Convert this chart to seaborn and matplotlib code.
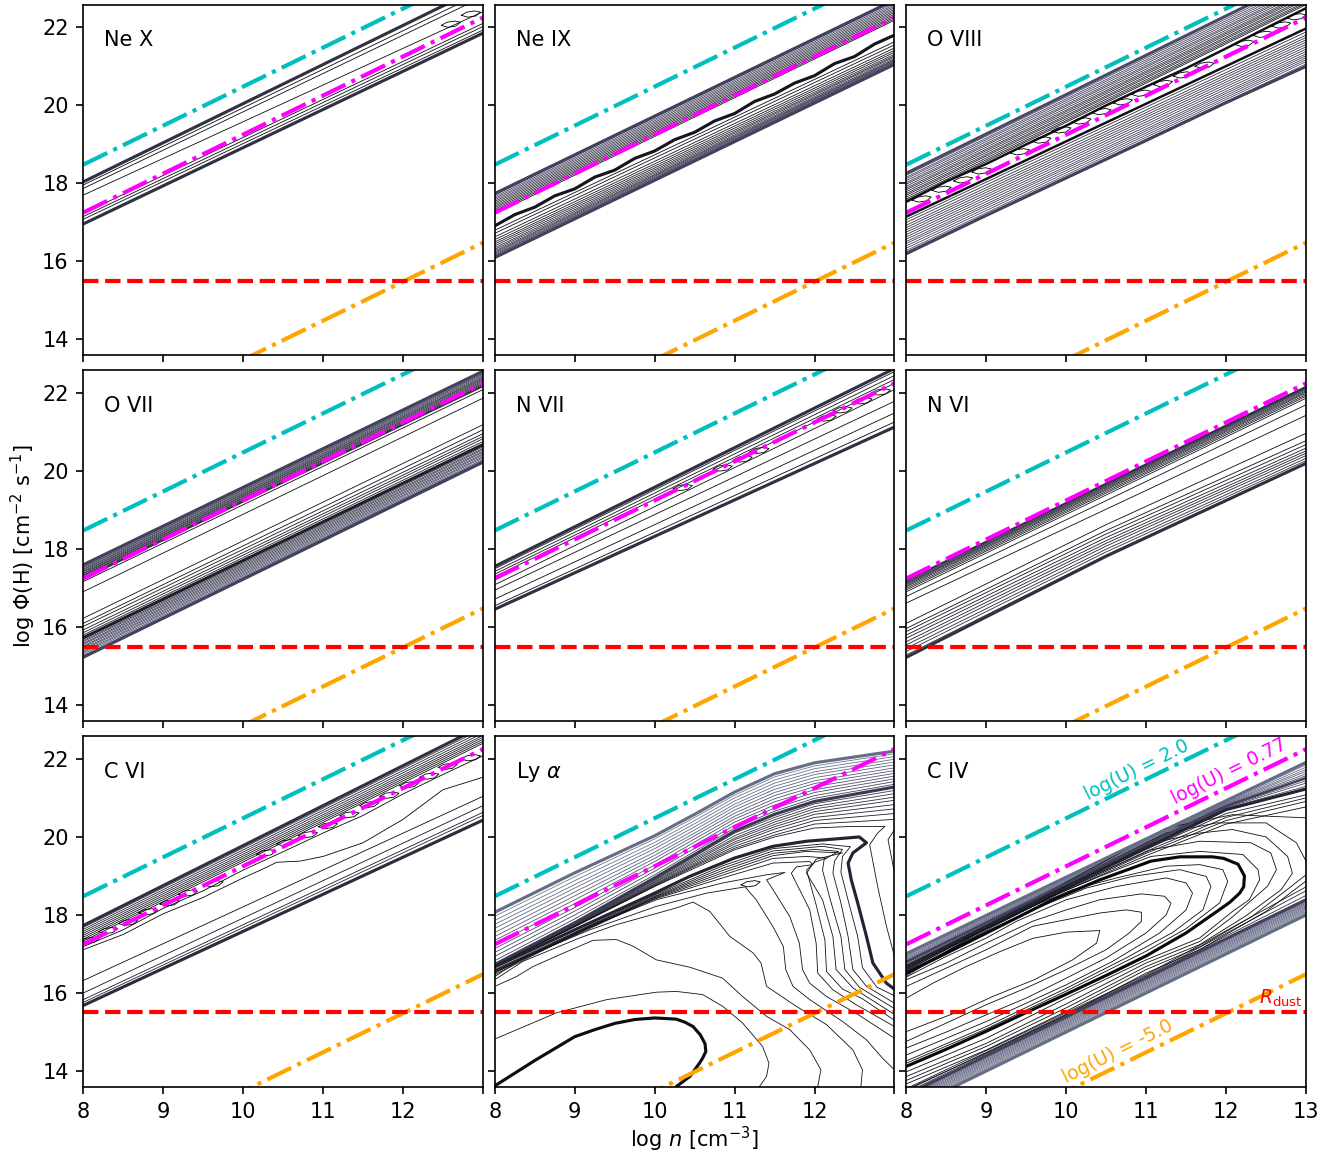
import numpy as np
import pandas as pd
import seaborn as sns
import matplotlib.pyplot as plt

#%% shared reference lines
n_ends = [8, 13]
n_knots = [8, 9, 10, 11, 12, 13]
n_quarter = [8, 8.25, 8.5, 8.75, 9, 9.25, 9.5, 9.75, 10, 10.25, 10.5, 10.75, 11,
             11.25, 11.5, 11.75, 12, 12.25, 12.5, 12.75, 13]
n_half = [8, 8.5, 9, 9.5, 10, 10.5, 11, 11.5, 12, 12.5, 13]
n_bow = [8, 10.5, 13]
u_high = [18.48, 23.48]
u_mid = [17.25, 22.25]
u_low = [11.48, 16.48]
r_dust = [15.5, 15.5]
panel_names = ['Ne X', 'Ne IX', 'O VIII', 'O VII', 'N VII', 'N VI', 'C VI', r'Ly $\alpha$', 'C IV']
x_ticks = [8, 9, 10, 11, 12, 13]
y_ticks = [14, 16, 18, 20, 22]

# small closed contours, drawn from one lens outline
loop_dn = [-.12, -.05, .05, .12, .06, -.04, -.12]
loop_dphi = [-.03, .05, .08, .05, -.05, -.08, -.03]

#%% Ne X
ne_x_thin_8 = [17.96, 17.87, 17.70, 17.23, 17.15, 17.08]
ne_x_thin_13 = [22.90, 22.78, 22.40, 22.10, 22.02, 21.93]
ne_x_thick_8 = [18.04, 16.96]
ne_x_thick_13 = [23.05, 21.85]
ne_x_loop_n = [12.85, 12.6]
ne_x_loop_phi = [22.34, 22.08]

#%% Ne IX
ne_ix_band_8 = [17.70, 17.66, 17.62, 17.58, 17.54, 17.50, 17.46, 17.42, 17.38, 17.34, 17.30, 17.26, 17.22]
ne_ix_band_13 = [22.66, 22.62, 22.58, 22.54, 22.50, 22.46, 22.42, 22.38, 22.34, 22.30, 22.26, 22.22, 22.18]
ne_ix_low_8 = [16.80, 16.72, 16.63, 16.56, 16.50, 16.45, 16.40, 16.35, 16.31, 16.27, 16.24, 16.21, 16.18, 16.16, 16.13]
ne_ix_low_13 = [21.63, 21.55, 21.47, 21.41, 21.36, 21.31, 21.27, 21.24, 21.20, 21.17, 21.15, 21.13, 21.11, 21.09, 21.07]
ne_ix_top = [17.74, 22.70]
ne_ix_bottom = [16.10, 21.05]
ne_ix_wavy = [16.91, 17.20, 17.39, 17.68, 17.86, 18.16, 18.34, 18.64, 18.83, 19.12, 19.31,
              19.60, 19.79, 20.10, 20.29, 20.57, 20.76, 21.07, 21.25, 21.57, 21.80]

#%% O VIII
o8_band_8 = [18.21, 18.16, 18.12, 18.07, 18.02, 17.98, 17.93, 17.88, 17.84, 17.79, 17.74, 17.70, 17.65, 17.60, 17.56]
o8_band_13 = [23.22, 23.17, 23.12, 23.07, 23.02, 22.98, 22.93, 22.88, 22.84, 22.80, 22.75, 22.71, 22.66, 22.62, 22.58]
o8_low_8 = [17.07, 17.00, 16.93, 16.87, 16.81, 16.75, 16.69, 16.63, 16.57, 16.51, 16.46, 16.40, 16.34, 16.28, 16.24]
o8_low_13 = [21.88, 21.80, 21.74, 21.68, 21.62, 21.56, 21.50, 21.44, 21.38, 21.32, 21.27, 21.22, 21.17, 21.12, 21.06]
o8_top = [18.26, 23.30]
o8_inner_low = [17.15, 21.97]
o8_inner_high = [17.53, 18.05, 18.50, 19.00, 19.48, 20.00, 20.48, 20.95, 21.46, 21.98, 22.49]
o8_bottom = [16.20, 17.18, 18.14, 19.10, 20.07, 21.00]
o8_loop_n = [8.19, 8.44, 8.71, 8.94, 9.42, 9.69, 9.94, 10.19, 10.44, 10.71, 10.94, 11.21, 11.46, 11.73, 12.23, 12.46, 12.69, 12.88]
o8_loop_phi = [17.60, 17.85, 18.09, 18.32, 18.81, 19.11, 19.37, 19.60, 19.84, 20.09, 20.31, 20.56, 20.78, 21.03, 21.59, 21.82, 22.06, 22.27]

#%% O VII
o7_band_8 = [17.57, 17.54, 17.52, 17.49, 17.47, 17.44, 17.42, 17.39, 17.37, 17.34, 17.32, 17.29]
o7_band_13 = [22.53, 22.50, 22.48, 22.45, 22.42, 22.39, 22.37, 22.34, 22.31, 22.28, 22.25, 22.22]
o7_thin_8 = [17.17, 16.91, 16.23, 16.10, 16.02, 15.93, 15.86, 15.80]
o7_thin_13 = [22.09, 21.87, 21.19, 21.06, 20.96, 20.89, 20.83, 20.76]
o7_low_8 = [15.70, 15.66, 15.63, 15.59, 15.56, 15.52, 15.49, 15.45, 15.42, 15.38, 15.35, 15.31, 15.27]
o7_low_13 = [20.65, 20.62, 20.58, 20.55, 20.51, 20.48, 20.44, 20.41, 20.37, 20.34, 20.30, 20.27, 20.25]
o7_top = [17.60, 22.56]
o7_peak = [17.25, 22.18]
o7_mid = [15.73, 20.68]
o7_bottom = [15.23, 20.23]

#%% N VII
n7_thin_8 = [17.50, 17.43, 17.36, 17.30, 17.09, 16.95, 16.72, 16.55]
n7_thin_13 = [22.55, 22.45, 22.35, 22.25, 22.09, 21.79, 21.49, 21.26]
n7_thick_8 = [17.56, 16.46]
n7_thick_13 = [22.63, 21.13]
n7_loop_n = [10.35, 10.85, 11.10, 11.31, 12.15, 12.35, 12.60, 12.83]
n7_loop_phi = [19.58, 20.08, 20.31, 20.53, 21.36, 21.57, 21.80, 22.03]

#%% N VI
n6_band_8 = [17.16, 17.14, 17.12, 17.10, 17.07, 17.04, 17.00, 16.96, 16.91, 16.79, 16.62]
n6_band_13 = [22.13, 22.11, 22.09, 22.06, 22.03, 22.00, 21.96, 21.92, 21.87, 21.70, 21.43]
n6_low_8 = [16.10, 15.97, 15.89, 15.80, 15.72, 15.63, 15.55, 15.46, 15.38, 15.29]
n6_low_mid = [18.63, 18.48, 18.39, 18.30, 18.22, 18.15, 18.08, 18.00, 17.93, 17.85]
n6_low_13 = [20.97, 20.78, 20.68, 20.59, 20.52, 20.46, 20.40, 20.33, 20.27, 20.21]
n6_peak = [17.20, 22.16]
n6_bottom = [15.23, 17.82, 20.20]

#%% C VI
c6_band_8 = [17.68, 17.63, 17.58, 17.53, 17.48, 17.43, 17.38, 17.33]
c6_band_13 = [22.78, 22.72, 22.66, 22.60, 22.55, 22.50, 22.45, 22.40]
c6_low_8 = [16.32, 16.00, 15.83, 15.76]
c6_low_13 = [21.04, 20.80, 20.63, 20.55]
c6_top = [17.73, 22.85]
c6_bottom = [15.68, 20.43]
c6_wavy = [17.19, 17.62, 18.17, 18.62, 19.15, 19.62, 20.10, 20.55, 21.10, 21.60, 22.08]
c6_bump_n = [8, 8.5, 9, 9.5, 10, 10.25, 10.42, 10.71, 11, 11.5, 12, 12.5, 13]
c6_bump_phi = [17.11, 17.50, 18.03, 18.45, 18.95, 19.18, 19.35, 19.38, 19.50, 19.85, 20.45, 21.21, 21.53]
c6_loop_n = [8.08, 8.31, 8.56, 8.81, 9.08, 9.31, 9.63, 10.29, 10.54, 10.81, 11.06, 11.33, 11.58, 11.83, 12.08, 12.33, 12.56, 12.85]
c6_loop_phi = [17.35, 17.60, 17.81, 18.08, 18.31, 18.56, 18.80, 19.59, 19.85, 20.06, 20.29, 20.57, 20.83, 21.07, 21.34, 21.56, 21.81, 22.03]

#%% Ly alpha
ly_knots = [8, 9, 10, 10.5, 11, 11.5, 12, 13]
ly_top = [18.07, 19.08, 20.03, 20.58, 21.15, 21.62, 21.90, 22.20]
ly_second = [16.73, 17.80, 18.95, 19.55, 20.15, 20.58, 20.91, 21.28]
ly_up_8 = [17.97, 17.86, 17.76, 17.66, 17.55, 17.45, 17.35, 17.25, 17.14, 17.04, 16.94, 16.83]
ly_up_9 = [18.98, 18.88, 18.78, 18.69, 18.59, 18.49, 18.39, 18.29, 18.19, 18.10, 18.00, 17.90]
ly_up_10 = [19.95, 19.86, 19.78, 19.70, 19.61, 19.53, 19.45, 19.37, 19.28, 19.20, 19.12, 19.03]
ly_up_105 = [20.50, 20.42, 20.34, 20.26, 20.18, 20.10, 20.03, 19.95, 19.87, 19.79, 19.71, 19.63]
ly_up_11 = [21.07, 21.00, 20.92, 20.84, 20.77, 20.69, 20.61, 20.53, 20.46, 20.38, 20.30, 20.23]
ly_up_115 = [21.54, 21.46, 21.38, 21.30, 21.22, 21.14, 21.06, 20.98, 20.90, 20.82, 20.74, 20.66]
ly_up_12 = [21.82, 21.75, 21.67, 21.60, 21.52, 21.44, 21.37, 21.29, 21.21, 21.14, 21.06, 20.99]
ly_up_13 = [22.13, 22.06, 21.99, 21.92, 21.85, 21.77, 21.70, 21.63, 21.56, 21.49, 21.42, 21.35]
ly_dn_8 = [16.72, 16.72, 16.72, 16.71, 16.71, 16.71, 16.70, 16.70]
ly_dn_9 = [17.76, 17.75, 17.74, 17.73, 17.72, 17.71, 17.71, 17.70]
ly_dn_10 = [18.90, 18.88, 18.85, 18.83, 18.80, 18.78, 18.76, 18.74]
ly_dn_105 = [19.50, 19.46, 19.42, 19.38, 19.34, 19.30, 19.27, 19.24]
ly_dn_11 = [20.10, 20.03, 19.97, 19.93, 19.87, 19.82, 19.76, 19.71]
ly_dn_115 = [20.50, 20.44, 20.38, 20.32, 20.26, 20.20, 20.12, 20.05]
ly_dn_12 = [20.85, 20.78, 20.72, 20.65, 20.58, 20.50, 20.42, 20.33]
ly_dn_13 = [21.19, 21.11, 21.02, 20.94, 20.83, 20.72, 20.60, 20.45]

ly_peak_n = [8, 8.5, 9, 9.25, 9.5, 9.75, 10, 10.27, 10.38, 10.48, 10.57, 10.63, 10.64, 10.6, 10.56, 10.44, 10.27]
ly_peak_phi = [13.62, 14.27, 14.88, 15.06, 15.22, 15.32, 15.36, 15.33, 15.25, 15.14, 14.93, 14.70, 14.50, 14.33, 14.20, 13.86, 13.60]
ly_third_n = [8, 9, 10, 10.44, 11, 11.48, 11.9, 12.27, 12.56, 12.65, 12.48, 12.42, 12.46, 12.54, 12.65, 12.73, 12.9, 13]
ly_third_phi = [16.67, 17.62, 18.56, 18.99, 19.46, 19.76, 19.89, 19.95, 20.00, 19.85, 19.59, 19.33, 18.90, 18.31, 17.45, 16.77, 16.25, 16.10]
ly_a_n = [8, 8.77, 9.4, 10.02, 10.27, 10.6, 10.85, 11.1, 11.35, 11.43, 11.4, 11.31]
ly_a_phi = [14.82, 15.49, 15.83, 16.02, 16.04, 15.96, 15.66, 15.23, 14.63, 14.20, 13.86, 13.60]
ly_b_n = [8, 8.27, 8.48, 8.9, 9.23, 9.52, 9.73, 10.02, 10.44, 10.85, 11.1, 11.4, 11.69, 11.94, 12.08, 12.04]
ly_b_phi = [16.17, 16.42, 16.68, 17.06, 17.35, 17.37, 17.20, 16.85, 16.66, 16.38, 15.91, 15.40, 15.06, 14.54, 14.03, 13.60]
ly_c_n = [8, 8.35, 9.06, 9.52, 10.27, 10.48, 10.69, 10.94, 11.23, 11.33, 11.4, 11.77, 12.15, 12.48, 12.6, 12.58]
ly_c_phi = [16.34, 16.81, 17.41, 17.75, 18.18, 18.33, 18.09, 17.45, 17.03, 16.77, 16.17, 15.66, 15.19, 14.54, 14.03, 13.60]
ly_d_n = [8, 8.35, 9.19, 10.02, 10.65, 11.13, 11.27, 11.48, 11.61, 11.64, 11.73, 11.94, 12.35, 12.65, 12.85, 13]
ly_d_phi = [16.42, 16.90, 17.62, 18.22, 18.56, 18.72, 18.39, 17.70, 17.19, 16.60, 16.17, 15.83, 15.27, 14.80, 14.33, 14.03]
ly_e_n = [8, 9.19, 10.02, 10.85, 11.4, 11.63, 11.4, 11.48, 11.69, 11.81, 11.85, 11.94, 12.15, 12.52, 13]
ly_e_phi = [16.47, 17.70, 18.39, 18.82, 19.03, 19.09, 18.90, 18.65, 17.96, 17.28, 16.60, 16.25, 15.91, 15.48, 14.84]
ly_f_n = [8, 9.19, 10.02, 10.85, 11.48, 11.94, 11.98, 11.77, 11.71, 11.94, 12.02, 12.04, 12.23, 12.52, 13]
ly_f_phi = [16.51, 17.73, 18.42, 18.95, 19.33, 19.37, 19.29, 19.23, 19.07, 18.13, 17.28, 16.51, 16.08, 15.70, 15.14]
ly_i_n = [8, 10.02, 10.85, 11.48, 11.9, 12.15, 12.0, 11.9, 12.02, 12.13, 12.15, 12.35, 12.6, 13]
ly_i_phi = [16.53, 18.44, 19.02, 19.45, 19.50, 19.46, 19.35, 19.15, 18.26, 17.36, 16.55, 16.10, 15.85, 15.30]
ly_g_n = [8, 10.02, 10.85, 11.48, 11.9, 12.35, 12.02, 11.9, 12.1, 12.23, 12.27, 12.48, 13]
ly_g_phi = [16.55, 18.46, 19.08, 19.52, 19.63, 19.59, 19.43, 19.07, 18.39, 17.45, 16.60, 16.13, 15.45]
ly_g2_n = [8, 10.02, 10.85, 11.48, 12.0, 12.3, 12.12, 12.1, 12.2, 12.33, 12.38, 12.56, 13]
ly_g2_phi = [16.565, 18.48, 19.14, 19.58, 19.68, 19.63, 19.42, 19.15, 18.37, 17.45, 16.60, 16.15, 15.60]
ly_h_n = [8, 10.02, 10.85, 11.48, 12.1, 12.35, 12.25, 12.23, 12.33, 12.42, 12.48, 12.65, 13]
ly_h_phi = [16.58, 18.50, 19.20, 19.64, 19.76, 19.68, 19.38, 19.08, 18.31, 17.45, 16.60, 16.17, 15.74]
ly_m_n = [8, 10.02, 10.85, 11.48, 12.1, 12.45, 12.35, 12.33, 12.43, 12.54, 12.6, 12.78, 13]
ly_m_phi = [16.60, 18.53, 19.26, 19.70, 19.82, 19.75, 19.50, 19.10, 18.30, 17.45, 16.65, 16.15, 15.93]
ly_j_n = [8, 9, 10, 10.5, 11, 11.5, 12, 12.48, 12.88, 12.79, 12.69, 12.79, 12.9, 13]
ly_j_phi = [16.70, 17.70, 18.73, 19.20, 19.67, 20.00, 20.23, 20.27, 20.27, 20.10, 19.80, 18.73, 17.71, 16.94]
ly_k_n = [13, 12.92, 13]
ly_k_phi = [20.18, 19.93, 19.08]
ly_loop_n = [11.2]
ly_loop_phi = [18.8]

#%% C IV
civ_knots = [8, 11, 12, 13]
civ_up_8 = [16.98, 16.95, 16.92, 16.89, 16.86, 16.83, 16.77, 16.74, 16.71]
civ_up_11 = [19.93, 19.91, 19.89, 19.87, 19.85, 19.83, 19.79, 19.77, 19.75]
civ_up_12 = [20.91, 20.89, 20.87, 20.85, 20.83, 20.81, 20.77, 20.75, 20.73]
civ_up_13 = [21.85, 21.79, 21.73, 21.68, 21.62, 21.57, 21.44, 21.38, 21.30]
civ_outer = [17.01, 19.95, 20.93, 21.91]
civ_outer_mid = [16.80, 19.81, 20.79, 21.51]
civ_dark = [16.68, 17.71, 18.73, 19.72, 20.70, 21.23]
civ_sub_n = [8, 10, 11, 12, 13]
civ_sub_8 = [16.67, 16.66, 16.65, 16.64]
civ_sub_10 = [18.70, 18.68, 18.66, 18.64]
civ_sub_11 = [19.68, 19.63, 19.58, 19.52]
civ_sub_12 = [20.60, 20.50, 20.42, 20.33]
civ_sub_13 = [21.08, 21.00, 20.91, 20.77]
civ_oval1_n = [8, 8.33, 8.75, 9.17, 9.58, 10, 10.42, 10.38, 10.08, 9.6, 9.08, 8.75, 8.33, 8]
civ_oval1_phi = [15.87, 16.25, 16.68, 17.06, 17.40, 17.56, 17.60, 17.28, 16.85, 16.34, 15.91, 15.60, 15.27, 15.01]
civ_oval2_n = [8, 8.5, 9, 9.58, 10, 10.42, 10.75, 10.94, 10.94, 10.79, 10.5, 10, 9.5, 9, 8.5, 8]
civ_oval2_phi = [16.17, 16.64, 17.11, 17.71, 17.88, 18.05, 18.13, 18.07, 17.84, 17.54, 17.11, 16.60, 16.13, 15.70, 15.23, 14.76]
civ_oval3_n = [8, 8.5, 9, 9.58, 10, 10.42, 10.94, 11.23, 11.31, 11.25, 11, 10.5, 10, 9.5, 9, 8.5, 8]
civ_oval3_phi = [16.34, 16.77, 17.28, 17.84, 18.13, 18.39, 18.54, 18.48, 18.30, 18.00, 17.54, 16.90, 16.38, 15.87, 15.44, 15.00, 14.59]
civ_oval4_n = [8, 8.5, 9, 9.38, 10, 10.63, 11.25, 11.5, 11.58, 11.5, 11.17, 10.58, 10, 9.5, 9, 8.5, 8]
civ_oval4_phi = [16.41, 16.94, 17.41, 17.84, 18.39, 18.73, 18.95, 18.82, 18.56, 18.13, 17.54, 16.81, 16.21, 15.74, 15.27, 14.84, 14.41]
civ_oval5_n = [8, 8.5, 9, 9.58, 10.25, 10.83, 11.42, 11.75, 11.81, 11.71, 11.33, 10.75, 10, 9, 8]
civ_oval5_phi = [16.44, 17.06, 17.58, 18.13, 18.69, 18.99, 19.16, 18.99, 18.73, 18.13, 17.55, 16.90, 16.12, 15.14, 14.26]
civ_oval6_n = [8, 9, 9.58, 10.08, 10.63, 11.25, 11.67, 11.96, 12.02, 11.92, 11.5, 11, 10, 9, 8]
civ_oval6_phi = [16.47, 17.66, 18.22, 18.65, 18.95, 19.25, 19.29, 19.16, 18.86, 18.31, 17.65, 17.07, 16.05, 15.08, 14.20]
civ_peak_n = [8, 8.5, 9, 9.5, 10, 10.5, 11, 11.5, 11.92, 12.05, 12.17, 12.22, 12.23, 12.15, 11.97, 11.83, 11.42, 11.06, 10.42, 9.83, 9.17, 8.5, 8]
civ_peak_phi = [14.12, 14.56, 15.02, 15.50, 15.97, 16.45, 16.95, 17.54, 18.14, 18.33, 18.56, 18.72, 19.00, 19.30, 19.45, 19.49, 19.49, 19.38, 18.90, 18.39, 17.71, 17.02, 16.51]
civ_oval7_n = [8, 9.17, 9.83, 10.42, 11.06, 11.67, 12.21, 12.4, 12.42, 12.29, 12.08, 11.67, 11, 10, 9, 8]
civ_oval7_phi = [16.53, 17.79, 18.48, 18.99, 19.50, 19.63, 19.55, 19.16, 18.90, 18.39, 18.09, 17.41, 16.85, 15.87, 14.84, 13.98]
civ_oval8_n = [8, 9.17, 10.42, 11.06, 11.67, 12.31, 12.56, 12.63, 12.52, 12.08, 11.67, 11, 10, 9, 8]
civ_oval8_phi = [16.56, 17.87, 19.08, 19.67, 19.89, 19.85, 19.59, 19.16, 18.74, 17.95, 17.32, 16.77, 15.72, 14.71, 13.86]
civ_oval9_n = [8, 10.42, 11.06, 11.67, 12.08, 12.5, 12.77, 12.83, 12.69, 12.25, 11.67, 11, 10, 9, 8]
civ_oval9_phi = [16.58, 19.16, 19.84, 20.10, 20.19, 20.00, 19.50, 19.07, 18.65, 17.98, 17.24, 16.68, 15.62, 14.63, 13.76]
civ_arc10a_n = [8, 10.42, 11.25, 11.88, 12.5, 12.88, 13]
civ_arc10a_phi = [16.60, 19.25, 20.10, 20.36, 20.36, 19.85, 19.38]
civ_arc10b_n = [13, 12.79, 12.33, 11.67, 11, 10, 9, 8]
civ_arc10b_phi = [19.03, 18.69, 17.97, 17.18, 16.60, 15.53, 14.54, 13.67]
civ_arc11a_n = [8, 11.25, 12.08, 13]
civ_arc11a_phi = [16.62, 20.23, 20.57, 20.49]
civ_arc11b_n = [13, 12.5, 11.67, 11, 10, 9, 8.08]
civ_arc11b_phi = [18.87, 18.09, 17.11, 16.51, 15.44, 14.46, 13.60]
civ_below_knots = [8, 11, 13]
civ_below_8 = [13.55, 13.50, 13.45]
civ_below_11 = [16.47, 16.44, 16.42]
civ_below_13 = [18.72, 18.62, 18.50]
civ_mid_low = [13.39, 18.39]
civ_bottom = [13.00, 18.00]
civ_low_8 = [13.36, 13.33, 13.30, 13.27, 13.24, 13.21, 13.18, 13.15, 13.12, 13.09, 13.06, 13.03]
civ_low_13 = [18.36, 18.33, 18.30, 18.27, 18.24, 18.21, 18.18, 18.15, 18.12, 18.09, 18.06, 18.03]

#%% drawing helpers
sns.set_theme(style='ticks', rc={
    'font.size': 10, 'axes.labelsize': 10, 'xtick.labelsize': 10, 'ytick.labelsize': 10,
    'axes.linewidth': 0.8, 'xtick.major.width': 0.8, 'ytick.major.width': 0.8,
    'xtick.major.size': 3.5, 'ytick.major.size': 3.5,
    'axes.edgecolor': 'black', 'text.color': 'black', 'axes.labelcolor': 'black',
    'xtick.color': 'black', 'ytick.color': 'black',
})
plt.rcParams['font.family'] = ['DejaVu Sans']
bone = sns.color_palette('bone', as_cmap=True)
CYAN = '#00bfbf'


def draw_set(ax, n, rows, lw, shade_a, shade_b=None):
    # one line per row, every row on the same n knots
    shade_b = shade_a if shade_b is None else shade_b
    df = pd.concat([pd.DataFrame({'n': n, 'phi': phi, 'line': i}) for i, phi in enumerate(rows)])
    colors = [bone(s) for s in np.linspace(shade_a, shade_b, len(rows))]
    sns.lineplot(data=df, x='n', y='phi', hue='line', palette=colors, linewidth=lw,
                 estimator=None, sort=False, legend=False, ax=ax)


def draw_curve(ax, n, phi, lw, shade):
    draw_set(ax, n, [phi], lw, shade)


def draw_loops(ax, centre_n, centre_phi):
    for cn, cp in zip(centre_n, centre_phi):
        draw_curve(ax, np.add(loop_dn, cn), np.add(loop_dphi, cp), THIN, 0.0)


THIN = 0.4
THICK = 1.5

fig, axes = plt.subplots(3, 3, figsize=(1343 / 150, 1156 / 150), sharex=True, sharey=True)
fig.subplots_adjust(left=83.3 / 1343, right=1306 / 1343, top=1 - 4.7 / 1156, bottom=1 - 1087 / 1156,
                    wspace=0.03, hspace=0.043)
flat = axes.ravel()

#%% panels
ax = flat[0]
draw_set(ax, n_ends, list(zip(ne_x_thin_8, ne_x_thin_13)), THIN, 0.05)
draw_set(ax, n_ends, list(zip(ne_x_thick_8, ne_x_thick_13)), THICK, 0.22)
draw_loops(ax, ne_x_loop_n, ne_x_loop_phi)

ax = flat[1]
draw_set(ax, n_ends, list(zip(ne_ix_band_8, ne_ix_band_13)), THIN, 0.33, 0.08)
draw_set(ax, n_ends, list(zip(ne_ix_low_8, ne_ix_low_13)), THIN, 0.05, 0.33)
draw_curve(ax, n_ends, ne_ix_top, THICK, 0.3)
draw_curve(ax, n_ends, ne_ix_bottom, THICK, 0.3)
draw_curve(ax, n_quarter, ne_ix_wavy, THICK, 0.1)

ax = flat[2]
draw_set(ax, n_ends, list(zip(o8_band_8, o8_band_13)), THIN, 0.33, 0.1)
draw_set(ax, n_ends, list(zip(o8_low_8, o8_low_13)), THIN, 0.2, 0.33)
draw_curve(ax, n_ends, o8_top, THICK, 0.33)
draw_curve(ax, n_half, o8_inner_high, 1.2, 0.08)
draw_curve(ax, n_ends, o8_inner_low, 1.2, 0.08)
draw_curve(ax, n_knots, o8_bottom, THICK, 0.3)
draw_loops(ax, o8_loop_n, o8_loop_phi)

ax = flat[3]
draw_set(ax, n_ends, list(zip(o7_band_8, o7_band_13)), THIN, 0.33, 0.12)
draw_set(ax, n_ends, list(zip(o7_thin_8, o7_thin_13)), THIN, 0.05, 0.12)
draw_set(ax, n_ends, list(zip(o7_low_8, o7_low_13)), THIN, 0.22, 0.36)
draw_curve(ax, n_ends, o7_top, THICK, 0.3)
draw_curve(ax, n_ends, o7_peak, 1.0, 0.2)
draw_curve(ax, n_ends, o7_mid, THICK, 0.15)
draw_curve(ax, n_ends, o7_bottom, THICK, 0.3)

ax = flat[4]
draw_set(ax, n_ends, list(zip(n7_thin_8, n7_thin_13)), THIN, 0.1, 0.03)
draw_set(ax, n_ends, list(zip(n7_thick_8, n7_thick_13)), THICK, 0.22)
draw_loops(ax, n7_loop_n, n7_loop_phi)

ax = flat[5]
draw_set(ax, n_ends, list(zip(n6_band_8, n6_band_13)), THIN, 0.25, 0.05)
draw_set(ax, n_bow, list(zip(n6_low_8, n6_low_mid, n6_low_13)), THIN, 0.05, 0.22)
draw_curve(ax, n_ends, n6_peak, 1.0, 0.2)
draw_curve(ax, n_bow, n6_bottom, THICK, 0.22)

ax = flat[6]
draw_set(ax, n_ends, list(zip(c6_band_8, c6_band_13)), THIN, 0.2, 0.05)
draw_set(ax, n_ends, list(zip(c6_low_8, c6_low_13)), THIN, 0.05, 0.15)
draw_curve(ax, n_ends, c6_top, THICK, 0.22)
draw_curve(ax, n_ends, c6_bottom, THICK, 0.2)
draw_curve(ax, n_half, c6_wavy, THIN, 0.03)
draw_curve(ax, c6_bump_n, c6_bump_phi, THIN, 0.03)
draw_loops(ax, c6_loop_n, c6_loop_phi)

ax = flat[7]
draw_set(ax, ly_knots, list(zip(ly_up_8, ly_up_9, ly_up_10, ly_up_105, ly_up_11, ly_up_115, ly_up_12, ly_up_13)),
         THIN, 0.5, 0.3)
draw_set(ax, ly_knots, list(zip(ly_dn_8, ly_dn_9, ly_dn_10, ly_dn_105, ly_dn_11, ly_dn_115, ly_dn_12, ly_dn_13)),
         THIN, 0.25, 0.12)
draw_curve(ax, ly_knots, ly_top, THICK, 0.46)
draw_curve(ax, ly_knots, ly_second, THICK, 0.26)
for cn, cp in [(ly_a_n, ly_a_phi), (ly_b_n, ly_b_phi), (ly_c_n, ly_c_phi), (ly_d_n, ly_d_phi),
               (ly_e_n, ly_e_phi), (ly_f_n, ly_f_phi), (ly_i_n, ly_i_phi), (ly_g_n, ly_g_phi),
               (ly_g2_n, ly_g2_phi), (ly_h_n, ly_h_phi), (ly_m_n, ly_m_phi),
               (ly_j_n, ly_j_phi), (ly_k_n, ly_k_phi)]:
    draw_curve(ax, cn, cp, THIN, 0.08)
draw_curve(ax, ly_third_n, ly_third_phi, THICK, 0.16)
draw_curve(ax, ly_peak_n, ly_peak_phi, THICK, 0.06)
draw_loops(ax, ly_loop_n, ly_loop_phi)

ax = flat[8]
draw_set(ax, civ_knots, list(zip(civ_up_8, civ_up_11, civ_up_12, civ_up_13)), THIN, 0.46, 0.3)
draw_set(ax, civ_sub_n, list(zip(civ_sub_8, civ_sub_10, civ_sub_11, civ_sub_12, civ_sub_13)), THIN, 0.12, 0.06)
draw_set(ax, n_ends, list(zip(civ_low_8, civ_low_13)), THIN, 0.36, 0.5)
draw_set(ax, civ_below_knots, list(zip(civ_below_8, civ_below_11, civ_below_13)), THIN, 0.12, 0.22)
for cn, cp in [(civ_oval1_n, civ_oval1_phi), (civ_oval2_n, civ_oval2_phi), (civ_oval3_n, civ_oval3_phi),
               (civ_oval4_n, civ_oval4_phi), (civ_oval5_n, civ_oval5_phi), (civ_oval6_n, civ_oval6_phi),
               (civ_oval7_n, civ_oval7_phi), (civ_oval8_n, civ_oval8_phi), (civ_oval9_n, civ_oval9_phi),
               (civ_arc10a_n, civ_arc10a_phi), (civ_arc10b_n, civ_arc10b_phi),
               (civ_arc11a_n, civ_arc11a_phi), (civ_arc11b_n, civ_arc11b_phi)]:
    draw_curve(ax, cn, cp, THIN, 0.06)
draw_curve(ax, civ_knots, civ_outer, THICK, 0.46)
draw_curve(ax, civ_knots, civ_outer_mid, 1.2, 0.3)
draw_curve(ax, n_knots, civ_dark, THICK, 0.16)
draw_curve(ax, civ_peak_n, civ_peak_phi, THICK, 0.04)
draw_curve(ax, n_ends, civ_mid_low, THICK, 0.3)
draw_curve(ax, n_ends, civ_bottom, THICK, 0.46)

#%% reference lines and axes
for i, ax in enumerate(flat):
    sns.lineplot(x=n_ends, y=u_high, color=CYAN, linewidth=2, linestyle='-.', ax=ax)
    sns.lineplot(x=n_ends, y=u_mid, color='#ff00ff', linewidth=2, linestyle='-.', ax=ax)
    sns.lineplot(x=n_ends, y=u_low, color='orange', linewidth=2, linestyle='-.', ax=ax)
    sns.lineplot(x=n_ends, y=r_dust, color='#ff0000', linewidth=2, linestyle='--', ax=ax)
    ax.set(xlabel='', ylabel='')
    ax.text(0.0525, 0.899, panel_names[i], transform=ax.transAxes, ha='left', va='center', fontsize=10)
    ax.set_xlim(8, 13)
    ax.set_ylim(13.59, 22.58)
    ax.set_xticks(x_ticks)
    ax.set_yticks(y_ticks)
    ax.tick_params(labelleft=i % 3 == 0, labelbottom=i >= 6)

# the shared 13 only gets a label under the last panel
for ax in flat[6:8]:
    ax.xaxis.get_major_ticks()[-1].label1.set_visible(False)

flat[3].set_ylabel(r'log $\Phi$(H) [cm$^{-2}$ s$^{-1}$]', labelpad=2)
flat[7].set_xlabel(r'log $n$ [cm$^{-3}$]', labelpad=1.5)

ax = flat[8]
ax.text(10.88, 21.72, 'log(U) = 2.0', color=CYAN, rotation=26.5, ha='center', va='center', fontsize=9)
ax.text(12.04, 21.68, 'log(U) = 0.77', color='#ff00ff', rotation=26.5, ha='center', va='center', fontsize=9)
ax.text(10.65, 14.50, 'log(U) = -5.0', color='orange', rotation=26.5, ha='center', va='center', fontsize=9)
ax.text(12.68, 15.85, r'$R_{\rm dust}$', color='#ff0000', ha='center', va='center', fontsize=9)

fig.savefig('out.png', dpi=150)
